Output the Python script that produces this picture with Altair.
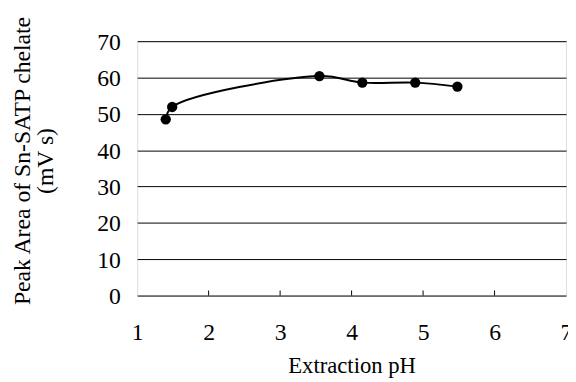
import altair as alt
import pandas as pd

ph = [1.40, 1.49, 3.55, 4.15, 4.89, 5.48]
area = [48.5, 51.9, 60.4, 58.6, 58.6, 57.5]
tick_ph = [2, 3, 4, 5, 6]
tick_len = [1.4, 1.4, 1.4, 1.4, 1.4]

df = pd.DataFrame({"ph": ph, "area": area})
ticks = pd.DataFrame({"t": tick_ph, "y0": [0] * len(tick_ph), "y1": tick_len})

FONT = "Liberation Serif"

xs = alt.Scale(domain=[1, 7], nice=False, zero=False)
ys = alt.Scale(domain=[0, 70], nice=False)

x_axis = alt.Axis(
    values=[1, 2, 3, 4, 5, 6, 7], format="d", grid=False, ticks=False, domain=False,
    labelFont=FONT, labelFontSize=24, labelColor="black", labelPadding=26,
    labelFlush=False, labelOverlap=False,
    title="Extraction pH", titleFont=FONT, titleFontSize=23, titleFontWeight="normal",
    titleColor="black", titleBaseline="alphabetic", titleY=78,
)
y_axis = alt.Axis(
    values=[0, 10, 20, 30, 40, 50, 60, 70], grid=True, gridColor="black", gridWidth=1,
    gridOpacity=1, ticks=False, domain=False,
    labelFont=FONT, labelFontSize=24, labelColor="black", labelPadding=17,
    labelOffset=1, labelFlush=False, labelOverlap=False,
    title=["Peak Area of Sn-SATP chelate", "(mV s)"], titleFont=FONT, titleFontSize=24,
    titleFontWeight="normal", titleColor="black", titleLineHeight=23,
    titleBaseline="alphabetic", titleX=-109, titleY=121, titleAngle=-90,
)

line = alt.Chart(df).mark_line(color="black", strokeWidth=2, interpolate="catmull-rom").encode(
    x=alt.X("ph:Q", scale=xs, axis=x_axis),
    y=alt.Y("area:Q", scale=ys, axis=y_axis),
)
pts = alt.Chart(df).mark_circle(color="black", opacity=1, size=110).encode(
    x=alt.X("ph:Q", scale=xs, axis=x_axis),
    y=alt.Y("area:Q", scale=ys, axis=y_axis),
)
tk = alt.Chart(ticks).mark_rule(color="black", strokeWidth=1).encode(
    x=alt.X("t:Q", scale=xs, axis=x_axis),
    y=alt.Y("y0:Q", scale=ys, axis=y_axis),
    y2="y1:Q",
)

chart = (
    alt.layer(tk, line, pts)
    .properties(
        width=435, height=258,
        autosize=alt.AutoSizeParams(type="none"),
        padding={"left": 131, "top": 31, "right": 2, "bottom": 84},
    )
    .configure_view(stroke="#444", strokeWidth=1, strokeDash=[1, 1])
    .configure(background="white")
)

chart.save("out.html", embed_options={"renderer": "svg", "actions": False})
